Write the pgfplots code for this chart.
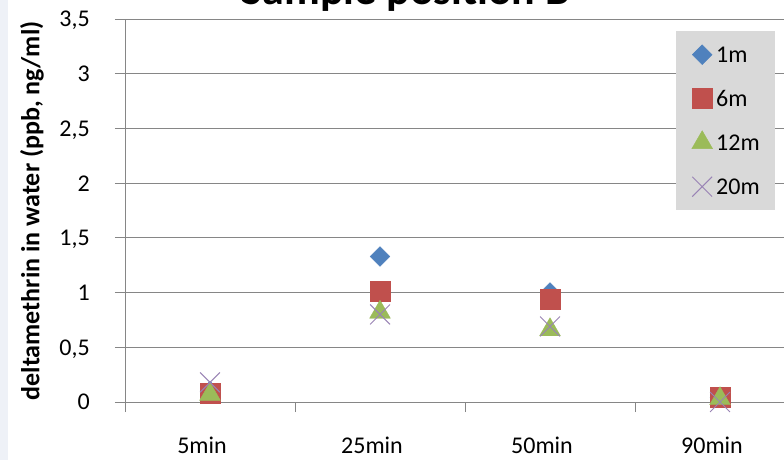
\documentclass[border=0pt]{standalone}
\usepackage{pgfplots}
\pgfplotsset{compat=1.18}
\usepackage{fontspec}
\setmainfont{Carlito}
\definecolor{s1}{HTML}{4F81BD}
\definecolor{s2}{HTML}{C0504D}
\definecolor{s3}{HTML}{9BBB59}
\definecolor{s4}{HTML}{8064A2}
\definecolor{gridc}{HTML}{868686}
\definecolor{strip}{HTML}{EEF1F7}
\begin{document}
\begin{tikzpicture}[x=1pt,y=1pt]
\useasboundingbox (0,0) rectangle (784,460);
\clip (0,0) rectangle (784,460);
\fill[white] (0,0) rectangle (784,460);
\fill[strip] (0,0) rectangle (8,460);
\begin{axis}[
  at={(125pt,58pt)}, anchor=south west,
  scale only axis, width=680pt, height=383pt,
  xmin=0, xmax=4, ymin=0, ymax=3.5,
  axis x line*=bottom, axis y line*=left,
  axis line style={gridc, line width=0.9pt},
  ytick={0,0.5,1,1.5,2,2.5,3,3.5},
  yticklabels={0,{0,5},1,{1,5},2,{2,5},3,{3,5}},
  ymajorgrids, grid style={gridc, line width=0.9pt},
  xtick={0,1,2,3,4}, xticklabels={},
  extra x ticks={0.5,1.5,2.5,3.5},
  extra x tick labels={5min,25min,50min,90min},
  extra x tick style={major tick length=0pt, grid=none},
  tick align=outside, major tick length=10pt,
  tick style={gridc, line width=0.9pt},
  xticklabel style={anchor=base, inner sep=0pt, xshift=-8pt, yshift=-52pt, font=\fontsize{24}{28}\selectfont},
  yticklabel style={anchor=base east, inner sep=0pt, xshift=-25pt, yshift=-8pt, font=\fontsize{24}{28}\selectfont},
  ylabel={\bfseries deltamethrin in water (ppb, ng/ml)},
  ylabel style={at={(axis description cs:-0.137,0.499)}, anchor=center, font=\fontsize{26}{30}\selectfont},
  title={\bfseries Sample position B},
  title style={at={(axis description cs:0.413,1.0209)}, anchor=base, font=\fontsize{44}{50}\selectfont},
  clip=false,
  legend style={at={(axis description cs:0.8103,0.9687)}, anchor=north west,
    fill=black!15, draw=none, inner xsep=15.6pt, inner ysep=1.5pt,
    column sep=3.6pt, row sep=0pt, font=\fontsize{24}{28}\selectfont,
    nodes={inner sep=0pt, text height=29.5pt, text depth=14.5pt}},
  legend cell align=left,
]
\addplot[only marks, mark=square*, mark size=7, mark options={rotate=45, fill=s1, draw=s1}]
  coordinates {(0.5,0.10) (1.5,1.33) (2.5,1.00) (3.5,0.04)};
\addplot[only marks, mark=square*, mark size=10, mark options={fill=s2, draw=s2}]
  coordinates {(0.5,0.08) (1.5,1.01) (2.5,0.94) (3.5,0.04)};
\addplot[only marks, mark=triangle*, mark size=12, mark options={fill=s3, draw=s3}]
  coordinates {(0.5,0.07) (1.5,0.82) (2.5,0.66) (3.5,0.03)};
\addplot[only marks, mark=x, mark size=14, mark options={draw=s4!80, line width=1pt}]
  coordinates {(0.5,0.18) (1.5,0.80) (2.5,0.69) (3.5,0.00)};
\legend{1m,6m,12m,20m}
\end{axis}
\end{tikzpicture}
\end{document}
